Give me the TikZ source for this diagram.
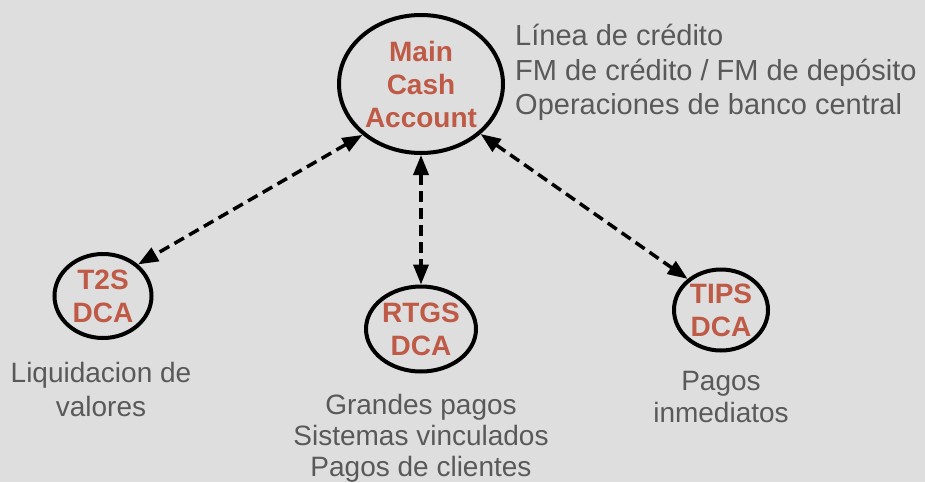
\documentclass[tikz,border=0pt]{standalone}
\usepackage{fontspec}
\setmainfont{Liberation Sans}
\usetikzlibrary{shapes.geometric,arrows.meta}
\definecolor{bgc}{HTML}{DEDEDE}
\definecolor{txt}{HTML}{595959}
\definecolor{acc}{RGB}{190,90,70}
\begin{document}
\begin{tikzpicture}[x=1pt,y=-1pt,
  acct/.style={ellipse, draw=black, line width=4pt, inner sep=0pt,
    font=\fontsize{28}{33}\selectfont\bfseries, text=acc, align=center},
  link/.style={line width=3.5pt, dash pattern=on 11pt off 6pt,
    {Triangle[length=20pt,width=15pt]}-{Triangle[length=20pt,width=15pt]}},
  lbl/.style={text=txt, inner sep=0pt, font=\fontsize{28}{33}\selectfont},
  rlbl/.style={text=txt, inner sep=0pt, anchor=base west, font=\fontsize{29}{34}\selectfont}
]
\fill[bgc] (0,0) rectangle (925,482);
\useasboundingbox (0,0) rectangle (925,482);

\node[acct, minimum width=164pt, minimum height=138pt] (main) at (421,84) {Main\\Cash\\Account};
\node[acct, minimum width=97pt, minimum height=84pt] (t2s) at (103,296) {T2S\\DCA};
\node[acct, minimum width=97pt, minimum height=85pt] (rtgs) at (421,329) {RTGS\\DCA};
\node[acct, minimum width=94pt, minimum height=81pt] (tips) at (721,310) {TIPS\\DCA};

\draw[link] (main.221) -- (t2s.42);
\draw[link] (main) -- (rtgs);
\draw[link] (main.320) -- (tips.137);

\node[rlbl] (r1) at (515,45) {Línea de crédito};
\node[rlbl] (r2) at (515,80) {FM de crédito / FM de depósito};
\node[rlbl] (r3) at (515,114) {Operaciones de banco central};

\node[lbl, anchor=base] (t1) at (101,382) {Liquidacion de};
\node[lbl, anchor=base] (t2) at (101,416) {valores};

\node[lbl, anchor=base] (g1) at (421,414) {Grandes pagos};
\node[lbl, anchor=base] (g2) at (421,445) {Sistemas vinculados};
\node[lbl, anchor=base] (g3) at (421,476) {Pagos de clientes};

\node[lbl, anchor=base] (p1) at (721,390) {Pagos};
\node[lbl, anchor=base] (p2) at (721,422) {inmediatos};
\end{tikzpicture}
\end{document}
